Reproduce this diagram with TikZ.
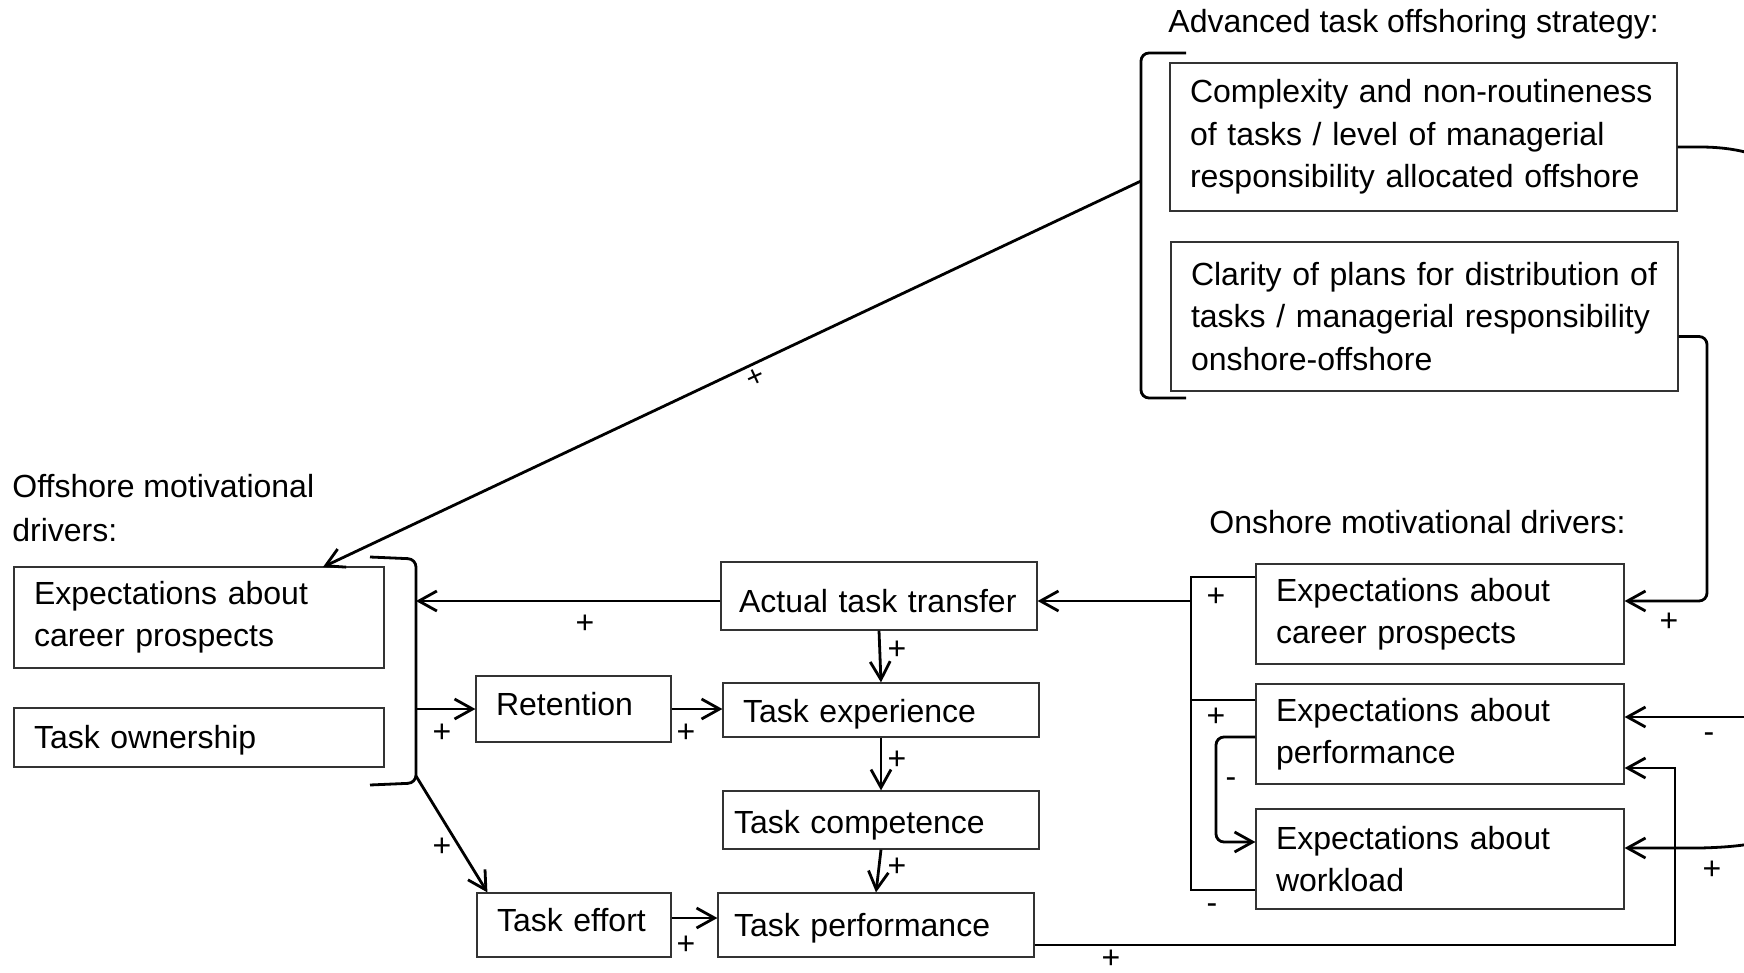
\documentclass[tikz,border=0pt]{standalone}
\usepackage{fontspec}
\setmainfont{Liberation Sans}
\usetikzlibrary{arrows.meta,calc}
\begin{document}
\begin{tikzpicture}[x=0.5pt,y=-0.5pt,
  mybox/.style={draw=black!80, line width=0.6pt, rectangle, inner xsep=10pt, inner ysep=0pt, align=left, font=\fontsize{16pt}{20.8pt}\selectfont},
  myconn/.style={line width=1.4pt},
  myarr/.style={myconn, -{Straight Barb[length=9pt,width=10pt]}},
  mylbl/.style={font=\fontsize{16pt}{16pt}\selectfont, inner sep=0pt, anchor=base},
  mytitle/.style={font=\fontsize{16pt}{22pt}\selectfont, inner sep=0pt, align=left}]
\useasboundingbox (0,0) rectangle (1744,973);
\clip (0,0) rectangle (1744,973);

% titles
\node[mytitle, anchor=base west] (t1) at (1168,33) {Advanced task offshoring strategy:};
\node[mytitle, anchor=north west] (t2) at (12,474) {Offshore motivational\\drivers:};
\node[mytitle, anchor=base west] (t3) at (1209,533) {Onshore motivational drivers:};

% boxes
\node[mybox, font=\fontsize{16pt}{21.2pt}\selectfont, minimum height=74pt, text width=233.5pt] (comp) at (1423.5,137) {Complexity and non-routineness\\of tasks / level of managerial\\responsibility allocated offshore};
\node[mybox, font=\fontsize{16pt}{21.2pt}\selectfont, minimum height=74.5pt, text width=233.5pt] (clar) at (1424.5,316.5) {Clarity of plans for distribution of\\tasks / managerial responsibility\\onshore-offshore};

\node[mybox, minimum height=50.5pt, text width=165pt] (off1) at (199,617.5) {Expectations about\\career prospects};
\node[mybox, minimum height=29.5pt, text width=165pt, text height=10.8pt, text depth=0pt] (own) at (199,737.5) {Task ownership};

\node[mybox, minimum height=33pt, text width=77.5pt, text height=6pt, text depth=0pt] (ret) at (573.5,709) {Retention};
\node[mybox, minimum height=32pt, text width=77pt, text height=6.7pt, text depth=0pt] (eff) at (574,925) {Task effort};

\node[mybox, minimum height=34pt, inner xsep=9pt, text width=140pt, text height=16.7pt, text depth=0pt] (att) at (879,596) {Actual task transfer};
\node[mybox, minimum height=27pt, text width=138pt, text height=12.7pt, text depth=0pt] (exp) at (881,710) {Task experience};
\node[mybox, minimum height=29pt, inner xsep=5.5pt, text width=147pt, text height=13.3pt, text depth=0pt] (tcomp) at (881,820) {Task competence};
\node[mybox, minimum height=32pt, inner xsep=8pt, text width=142pt, text height=11.7pt, text depth=0pt] (perf) at (876,925) {Task performance};

\node[mybox, minimum height=50pt, text width=164pt] (on1) at (1440,614) {Expectations about\\career prospects};
\node[mybox, minimum height=50pt, text width=164pt] (on2) at (1440,734) {Expectations about\\performance};
\node[mybox, minimum height=50pt, text width=164pt] (on3) at (1440,859) {Expectations about\\workload};

% strategy bracket and arrow to offshore drivers
\draw[myconn, rounded corners=4pt] (1186,53) -- (1141,53) -- (1141,398) -- (1186,398);
\coordinate (sbk) at (1141,181);
\coordinate (offtip) at (323,567);
\draw[myarr] (sbk) -- (offtip);

% offshore bracket
\draw[myconn, rounded corners=4pt] (370,557) -- (416,559) -- (416,783) -- (370,785);
\coordinate (ob1) at (416,601);
\coordinate (ob2) at (416,709);
\coordinate (ob3) at (416,776);
\draw[myarr] ($(att.west)+(0,5)$) -- (ob1);
\draw[myarr] (ob2) -- (ret.west);
\draw[myarr] (ob3) -- ($(eff.north west)+(11,0)$);
\draw[myarr] (ret.east) -- (ret.east -| exp.west);
\draw[myarr] ($(eff.east)+(0,-7)$) coordinate (e1) -- (e1 -| perf.west);

% central chain
\draw[myarr] (att.south) -- (exp.north);
\draw[myarr] (exp.south) -- (tcomp.north);
\draw[myarr] (tcomp.south) -- (perf.north);

% onshore bracket
\coordinate (nb1) at (1191,577);
\coordinate (nb2) at (1191,700);
\coordinate (nb3) at (1191,890);
\coordinate (nbm) at (1191,601);
\draw[myconn] ($(on1.west)+(0,-37)$) -- (nb1) -- (nb3) -- ($(on3.west)+(0,31)$);
\draw[myconn] ($(on2.west)+(0,-34)$) -- (nb2);
\draw[myarr] (nbm) -- (nbm -| att.east);

% performance expectations -> workload expectations
\coordinate (pw) at (1216,790);
\draw[myarr, rounded corners=4pt] ($(on2.west)+(0,3)$) -| (pw) |- ($(on3.west)+(0,-17)$);

% clarity -> onshore career prospects
\coordinate (cv) at (1707,450);
\draw[myarr, rounded corners=4pt] ($(clar.east)+(0,20)$) -| (cv) |- ($(on1.east)+(0,-13)$);

% task performance -> performance expectations
\coordinate (tv) at (1675,850);
\draw[myarr] ($(perf.east)+(0,20)$) -| (tv) |- ($(on2.east)+(0,34)$);

% right loop (partly outside the picture)
\coordinate (rl) at (1800,717);
\draw[myarr] ($(comp.east)+(0,10)$) -- (1700,147) .. controls (1745,147) and (1800,160) .. (1800,210) -- (1800,790) .. controls (1800,830) and (1785,846) .. (1700,848) -- ($(on3.east)+(0,-11)$);
\draw[myarr] (rl) -- ($(on2.east)+(0,-17)$);

% labels
\node[mylbl, anchor=center, rotate=25, font=\fontsize{15pt}{15pt}\selectfont] (l0) at (756,378) {+};
\node[mylbl] (l1) at (585,633.4) {+};
\node[mylbl] (l2) at (442,742.4) {+};
\node[mylbl] (l3) at (442,856.4) {+};
\node[mylbl] (l4) at (686,742.4) {+};
\node[mylbl] (l5) at (686,954.4) {+};
\node[mylbl] (l6) at (897,659.4) {+};
\node[mylbl] (l7) at (897,769.4) {+};
\node[mylbl] (l8) at (897,876.4) {+};
\node[mylbl] (l9) at (1111,968) {+};
\node[mylbl] (l10) at (1216,606.4) {+};
\node[mylbl] (l11) at (1216,726.4) {+};
\node[mylbl] (l12) at (1669,631.4) {+};
\node[mylbl] (l13) at (1712,879.4) {+};
\node[mylbl] (l14) at (1212,913.2) {-};
\node[mylbl] (l15) at (1231,787.2) {-};
\node[mylbl] (l16) at (1709,742.2) {-};
\end{tikzpicture}
\end{document}
